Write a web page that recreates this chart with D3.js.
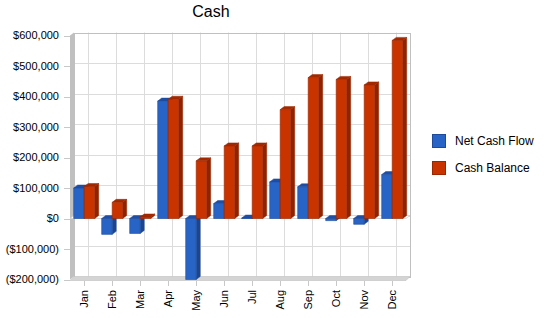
<!DOCTYPE html>
<html>
<head>
<meta charset="utf-8">
<script src="https://cdn.jsdelivr.net/npm/d3@7"></script>
<style>
  body { margin: 0; background: #fff; }
  text { font-family: "Liberation Sans", Arial, sans-serif; }
</style>
</head>
<body>
<div id="chart"></div>
<script>
let months = ["Jan","Feb","Mar","Apr","May","Jun","Jul","Aug","Sep","Oct","Nov","Dec"];
let netCashFlow = [100000, -52000, -49000, 385000, -202000, 49000, 1500, 120000, 104000, -7000, -19000, 144000];
let cashBalance = [105000, 53000, 5000, 391000, 189000, 238000, 238000, 357000, 462000, 456000, 438000, 584000];
let seriesNames = ["Net Cash Flow", "Cash Balance"];
let yTicks = [-200000, -100000, 0, 100000, 200000, 300000, 400000, 500000, 600000];

let width = 550, height = 318;
let depth = {x: 4, y: 3};
let colors = [
  {front: "#2864c6", top: "#1e4ea6", side: "#1b4590", edge: "#1d4a9a"},
  {front: "#c93300", top: "#a32900", side: "#8e2300", edge: "#9a2700"}
];

let svg = d3.select("#chart").append("svg")
    .attr("width", width).attr("height", height);

let x = d3.scaleBand().domain(d3.range(months.length)).range([70, 406]);
let inner = d3.scaleBand().domain([0, 1]).range([3.7, 24.7]);
let y = d3.scaleLinear().domain([-200000, 600000]).range([279.5, 35.5]);

let fmt = v => v < 0 ? "($" + d3.format(",")(-v) + ")" : "$" + d3.format(",")(v);

// back wall
let bx0 = x.range()[0] + depth.x, bx1 = x.range()[1] + depth.x;
let by0 = y(600000) - depth.y, by1 = y(-200000) - depth.y;

let grid = svg.append("g").attr("stroke", "#dcdcdc").attr("stroke-width", 1);
grid.selectAll(".hg").data(yTicks).join("line")
    .attr("x1", bx0).attr("x2", bx1)
    .attr("y1", d => Math.round(y(d) - depth.y) + 0.5)
    .attr("y2", d => Math.round(y(d) - depth.y) + 0.5);
grid.selectAll(".vg").data(d3.range(months.length)).join("line")
    .attr("x1", i => Math.round(x(i) + x.bandwidth() / 2 + depth.x) + 0.5)
    .attr("x2", i => Math.round(x(i) + x.bandwidth() / 2 + depth.x) + 0.5)
    .attr("y1", by0).attr("y2", by1);

svg.append("rect")
    .attr("x", Math.round(bx0) + 0.5).attr("y", Math.round(by0) + 0.5)
    .attr("width", Math.round(bx1 - bx0)).attr("height", Math.round(by1 - by0))
    .attr("fill", "none").attr("stroke", "#c0c0c0");

// left wall
let xl = x.range()[0];
svg.append("path")
    .attr("d", `M${xl},${y(600000)}L${xl + depth.x},${by0}L${xl + depth.x},${by1}L${xl},${y(-200000)}Z`)
    .attr("fill", "#c0c0c0");

// floor
let xr = x.range()[1];
svg.append("path")
    .attr("d", `M${xl},${y(-200000) + 1}L${xl + depth.x},${by1}L${xr + depth.x},${by1}L${xr},${y(-200000) + 1}Z`)
    .attr("fill", "#d4d4d4").attr("stroke", "#c0c0c0").attr("stroke-width", 0.6);

// zero plane
svg.append("path")
    .attr("d", `M${xl},${y(0)}L${xl + depth.x},${y(0) - depth.y}L${xr + depth.x},${y(0) - depth.y}L${xr},${y(0)}Z`)
    .attr("fill", "#fff").attr("stroke", "#d0d0d0").attr("stroke-width", 0.8);

// y axis ticks and labels
let yAxis = svg.append("g");
yAxis.selectAll("line").data(yTicks).join("line")
    .attr("x1", 64).attr("x2", 70)
    .attr("y1", d => Math.round(y(d)) + 0.5).attr("y2", d => Math.round(y(d)) + 0.5)
    .attr("stroke", "#c8c8c8");
yAxis.selectAll("text").data(yTicks).join("text")
    .attr("x", 59).attr("y", d => y(d))
    .attr("dy", "0.35em")
    .attr("text-anchor", "end")
    .attr("font-size", 11)
    .attr("fill", "#000")
    .text(fmt);

// x axis ticks and labels
let xAxis = svg.append("g");
xAxis.selectAll("line").data(d3.range(months.length)).join("line")
    .attr("x1", i => Math.round(x(i) + x.bandwidth() / 2) + 0.5)
    .attr("x2", i => Math.round(x(i) + x.bandwidth() / 2) + 0.5)
    .attr("y1", 281).attr("y2", 286)
    .attr("stroke", "#c8c8c8");
xAxis.selectAll("text").data(months).join("text")
    .attr("transform", (d, i) => `translate(${x(i) + x.bandwidth() / 2},290) rotate(-90)`)
    .attr("dy", "0.35em")
    .attr("text-anchor", "end")
    .attr("font-size", 11)
    .attr("fill", "#000")
    .text(d => d);

// bars
let bars = svg.append("g");
let yMin = y.domain()[0];
months.forEach((m, i) => {
  [netCashFlow[i], cashBalance[i]].forEach((v, s) => {
    let c = colors[s];
    let x0 = x(i) + inner(s), x1 = x0 + inner.bandwidth();
    let yt = y(Math.max(v, 0)), yb = y(Math.max(Math.min(v, 0), yMin));
    let g = bars.append("g").attr("stroke-linejoin", "round");
    g.append("path")
        .attr("d", `M${x1},${yt}L${x1 + depth.x},${yt - depth.y}L${x1 + depth.x},${yb - depth.y}L${x1},${yb}Z`)
        .attr("fill", c.side).attr("stroke", c.edge).attr("stroke-width", 0.5);
    g.append("path")
        .attr("d", `M${x0},${yt}L${x0 + depth.x},${yt - depth.y}L${x1 + depth.x},${yt - depth.y}L${x1},${yt}Z`)
        .attr("fill", c.top).attr("stroke", c.edge).attr("stroke-width", 0.5);
    g.append("rect")
        .attr("x", x0).attr("y", yt)
        .attr("width", x1 - x0).attr("height", Math.max(yb - yt, 0.5))
        .attr("fill", c.front).attr("stroke", c.edge).attr("stroke-width", 0.6);
  });
});

// title
svg.append("text")
    .attr("x", 211).attr("y", 17)
    .attr("text-anchor", "middle")
    .attr("font-size", 16)
    .attr("fill", "#000")
    .text("Cash");

// legend
let legend = svg.append("g");
legend.selectAll("rect").data(seriesNames).join("rect")
    .attr("x", 432.5).attr("y", (d, i) => 134.5 + i * 27)
    .attr("width", 13).attr("height", 13)
    .attr("fill", (d, i) => colors[i].front)
    .attr("stroke", (d, i) => colors[i].edge);
legend.selectAll("text").data(seriesNames).join("text")
    .attr("x", 455).attr("y", (d, i) => 141 + i * 27)
    .attr("dy", "0.35em")
    .attr("font-size", 12)
    .attr("fill", "#000")
    .text(d => d);
</script>
</body>
</html>
